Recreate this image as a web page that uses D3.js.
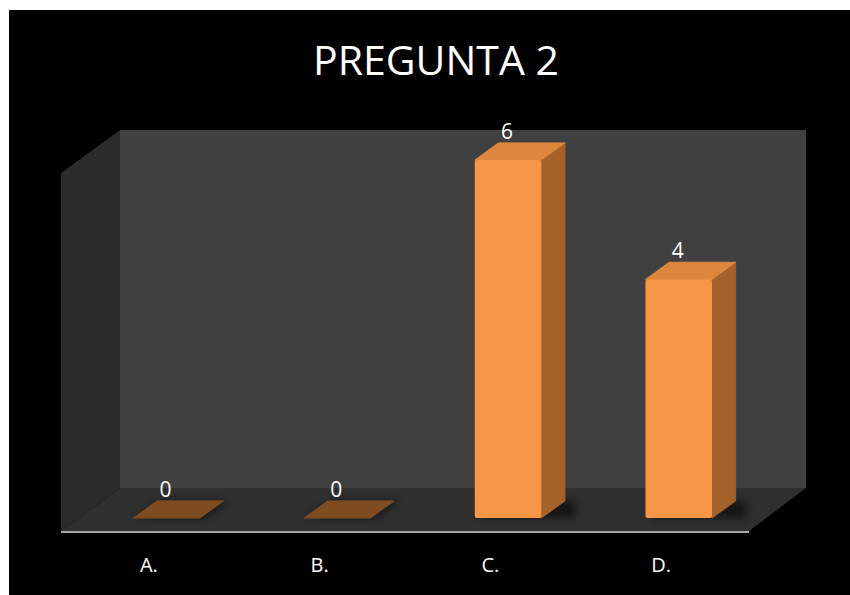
<!DOCTYPE html>
<html>
<head>
<meta charset="utf-8">
<script src="https://cdn.jsdelivr.net/npm/d3@7"></script>
<style>
  body { margin: 0; background: #fff; }
  svg { display: block; }
</style>
</head>
<body>
<svg class="chart" width="850" height="595"></svg>
<script>
var categories = ["A.", "B.", "C.", "D."];
var values = [0, 0, 6, 4];
var chartTitle = "PREGUNTA 2";

var svg = d3.select(".chart");

// black chart area
svg.append("rect")
    .attr("x", 9).attr("y", 10)
    .attr("width", 841).attr("height", 585)
    .attr("fill", "#000");

// front plane of the 3d box, plus its depth
var plotLeft = 61, plotRight = 749, plotBase = 531, plotTop = 173;
var depthX = 59, depthY = -43;
var fFront = 0.3, fBack = 0.7;

var x = d3.scaleBand()
    .domain(categories)
    .range([plotLeft, plotRight])
    .paddingInner(0.61)
    .paddingOuter(0.32);

var y = d3.scaleLinear()
    .domain([0, 6])
    .range([plotBase, plotTop]);

var defs = svg.append("defs");
defs.append("filter").attr("id", "shadow")
    .attr("x", "-50%").attr("y", "-50%").attr("width", "200%").attr("height", "200%")
  .append("feGaussianBlur").attr("stdDeviation", 4);

function pts(a) { return a.map(function(p) { return p.join(","); }).join(" "); }

// side wall
svg.append("polygon")
    .attr("points", pts([[plotLeft, y(6)], [plotLeft + depthX, y(6) + depthY],
                         [plotLeft + depthX, plotBase + depthY], [plotLeft, plotBase]]))
    .attr("fill", "#2b2b2b");

// back wall
svg.append("rect")
    .attr("x", plotLeft + depthX).attr("y", y(6) + depthY)
    .attr("width", plotRight - plotLeft - 2).attr("height", plotBase - y(6))
    .attr("fill", "#404040");

// floor
svg.append("polygon")
    .attr("points", pts([[plotLeft, plotBase], [plotRight, plotBase],
                         [plotRight + depthX - 2, plotBase + depthY], [plotLeft + depthX, plotBase + depthY]]))
    .attr("fill", "#2f2f2f");

svg.append("line")
    .attr("x1", plotLeft).attr("x2", plotRight)
    .attr("y1", plotBase + 1).attr("y2", plotBase + 1)
    .attr("stroke", "#a6a6a6").attr("stroke-width", 2);

var bars = svg.append("g").selectAll("g")
    .data(values)
    .join("g");

bars.each(function(v, i) {
  var g = d3.select(this);
  var x0 = x(categories[i]) + depthX * fFront,
      x1 = x0 + x.bandwidth(),
      yb = y(0) + depthY * fFront,
      yt = y(v) + depthY * fFront,
      dx = depthX * (fBack - fFront),
      dy = depthY * (fBack - fFront);

  if (v === 0) {
    g.append("polygon")
        .attr("points", pts([[x0 + 4, yb], [x1 + 4, yb], [x1 + dx + 4, yb + dy], [x0 + dx + 4, yb + dy]]))
        .attr("fill", "#000").attr("opacity", 0.6)
        .attr("filter", "url(#shadow)");
    g.append("polygon")
        .attr("points", pts([[x0, yb], [x1, yb], [x1 + dx, yb + dy], [x0 + dx, yb + dy]]))
        .attr("fill", "#7e4c21")
        .attr("stroke", "#7e4c21").attr("stroke-linejoin", "round");
  } else {
    g.append("polygon")
        .attr("points", pts([[x0 + 6, yb], [x1 + dx + 10, yb], [x1 + dx + 10, yb + dy], [x0 + 6, yb + dy]]))
        .attr("fill", "#000").attr("opacity", 0.55)
        .attr("filter", "url(#shadow)");
    // side
    g.append("polygon")
        .attr("points", pts([[x1, yt], [x1 + dx, yt + dy], [x1 + dx, yb + dy], [x1, yb]]))
        .attr("fill", "#a5612a")
        .attr("stroke", "#a5612a").attr("stroke-linejoin", "round");
    // top
    g.append("polygon")
        .attr("points", pts([[x0, yt], [x1, yt], [x1 + dx, yt + dy], [x0 + dx, yt + dy]]))
        .attr("fill", "#dc873d")
        .attr("stroke", "#dc873d").attr("stroke-linejoin", "round");
    // front
    g.append("rect")
        .attr("x", x0).attr("y", yt)
        .attr("width", x.bandwidth()).attr("height", yb - yt)
        .attr("rx", 2)
        .attr("fill", "#f79646");
  }

  g.append("text")
      .attr("x", x0 + x.bandwidth() / 2 - 1)
      .attr("y", y(v) + depthY * fBack - 4)
      .attr("text-anchor", "middle")
      .attr("font-family", "Open Sans")
      .attr("font-size", 21)
      .attr("fill", "#fff")
      .text(v);
});

// category labels
svg.append("g").selectAll("text")
    .data(categories)
    .join("text")
    .attr("x", function(d) { return x(d) + x.bandwidth() / 2; })
    .attr("y", 572)
    .attr("text-anchor", "middle")
    .attr("font-family", "Open Sans")
    .attr("font-size", 20)
    .attr("fill", "#fff")
    .text(function(d) { return d; });

svg.append("text")
    .attr("x", 436).attr("y", 75)
    .attr("text-anchor", "middle")
    .attr("font-family", "Open Sans")
    .attr("font-size", 41)
    .attr("fill", "#fff")
    .text(chartTitle);
</script>
</body>
</html>
